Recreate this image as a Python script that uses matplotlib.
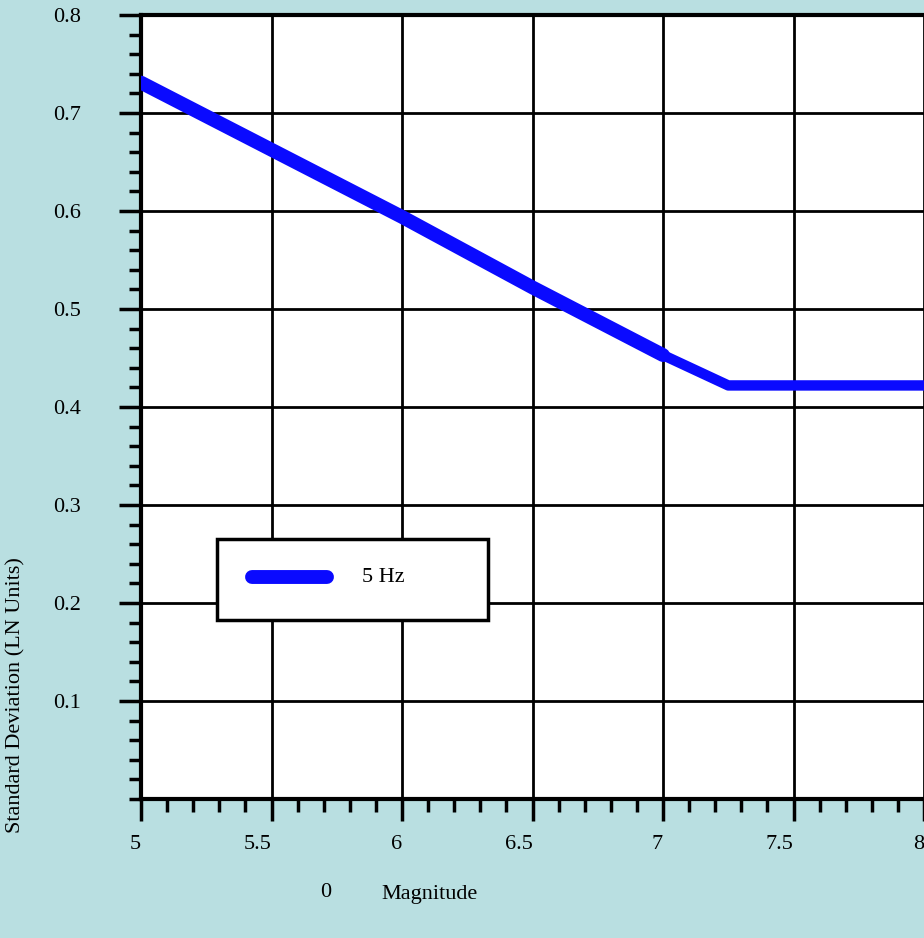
import matplotlib.pyplot as plt
from matplotlib.ticker import MultipleLocator
from matplotlib.patches import Rectangle

plt.rcParams['font.family'] = ['Liberation Serif', 'DejaVu Serif']

# Standard deviation of ground motion (LN units) vs magnitude, 5 Hz
mag_steep = [5.0, 6.0, 6.5, 7.0]
sigma_steep = [0.731, 0.594, 0.522, 0.453]
mag_flat = [7.0, 7.25, 8.0]
sigma_flat = [0.453, 0.422, 0.422]

bg = '#b9dfe1'
blue = '#0a0aff'
fs = 16

fig = plt.figure(figsize=(9.24, 9.38), dpi=100, facecolor=bg)
ax = fig.add_axes([0.1526, 0.1482, 0.8474, 0.8358])
ax.set_facecolor('white')

ax.plot(mag_steep, sigma_steep, color=blue, lw=10, solid_capstyle='round', zorder=3)
ax.plot(mag_flat, sigma_flat, color=blue, lw=7.5, solid_capstyle='butt', zorder=3)

ax.set_xlim(5, 8)
ax.set_ylim(0, 0.8)
ax.xaxis.set_minor_locator(MultipleLocator(0.1))
ax.yaxis.set_minor_locator(MultipleLocator(0.02))
ax.set_xticks([5, 5.5, 6, 6.5, 7, 7.5, 8])
ax.set_xticklabels(['5', '5.5', '6', '6.5', '7', '7.5', '8'], ha='right')
ax.set_yticks([0.1, 0.2, 0.3, 0.4, 0.5, 0.6, 0.7, 0.8])
ax.set_yticklabels(['0.1', '0.2', '0.3', '0.4', '0.5', '0.6', '0.7', '0.8'])

ax.grid(True, which='major', color='black', lw=2.0)
ax.set_axisbelow(True)
ax.tick_params(which='major', direction='out', length=16, width=2.5,
               labelsize=fs)
ax.tick_params(which='minor', direction='out', length=9, width=2.5)
ax.tick_params(axis='y', which='major', pad=27)
ax.tick_params(axis='x', which='major', pad=10)

for side in ['left', 'bottom', 'top']:
    ax.spines[side].set_linewidth(3)
ax.spines['right'].set_visible(False)

# legend box with its sample line and label
ax.add_patch(Rectangle((0.097, 0.228), 0.346, 0.104, transform=ax.transAxes,
                       facecolor='white', edgecolor='black', lw=2.5, zorder=4))
ax.plot([0.142, 0.238], [0.283, 0.283], transform=ax.transAxes, color=blue,
        lw=10, solid_capstyle='round', zorder=5)
ax.text(0.282, 0.283, '5 Hz', transform=ax.transAxes, ha='left',
        va='center', fontsize=fs, zorder=5)

fig.text(0.017, 0.259, 'Standard Deviation (LN Units)', rotation=90,
         ha='center', va='center', fontsize=fs)
fig.text(0.465, 0.046, 'Magnitude', ha='center', va='center', fontsize=fs)
fig.text(0.352, 0.049, '0', ha='center', va='center', fontsize=fs)

fig.savefig('out.png', dpi=100, facecolor=bg)
